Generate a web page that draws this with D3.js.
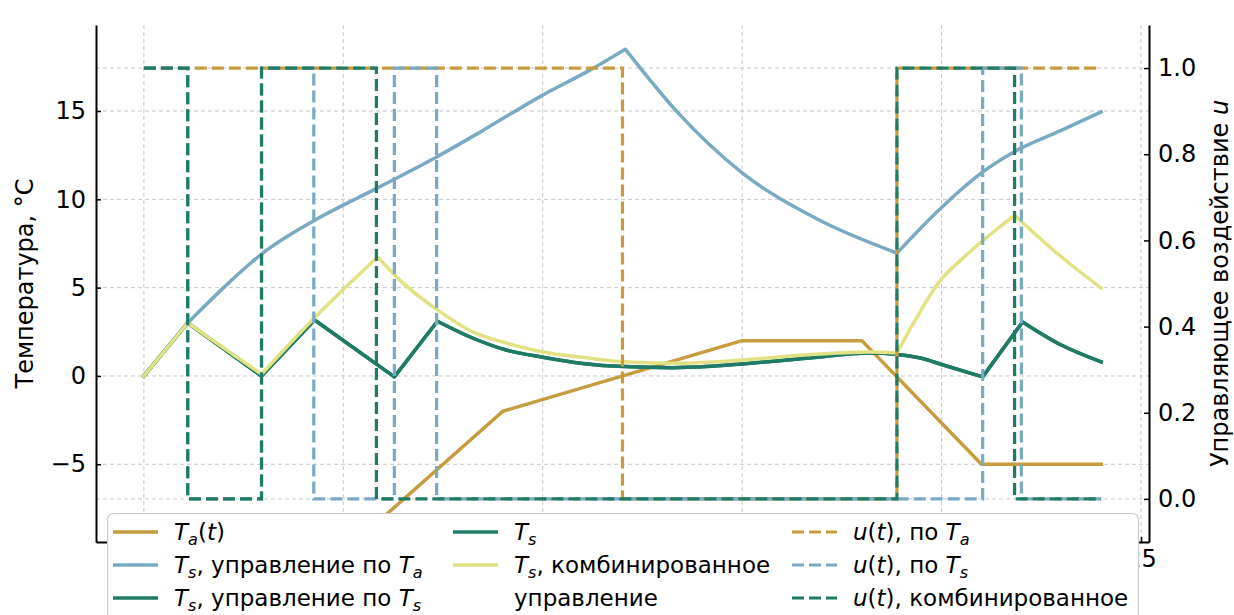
<!DOCTYPE html>
<html>
<head>
<meta charset="utf-8">
<script src="https://cdn.jsdelivr.net/npm/d3@7"></script>
<style>
  body { margin: 0; background: #fff; }
  svg { font-family: "DejaVu Sans", sans-serif; }
</style>
</head>
<body>
<div id="chart"></div>
<script>
// time, hours
const xTicks = [0, 5, 10, 15, 20, 25];
const tempTicks = [-5, 0, 5, 10, 15];
const uTicks = [0.0, 0.2, 0.4, 0.6, 0.8, 1.0];
const uGrid = [0, 1];

// ambient temperature T_a(t)
const ambient = [[0, -10], [5, -10], [9, -2], [15, 2], [18, 2], [21, -5], [24, -5]];

// T_s, control by T_a
const tsByTa = [[0, 0], [1.1, 3.0], [2, 5.0], [2.95, 6.9], [4.23, 8.75], [5.86, 10.65], [7.34, 12.4],
  [8.5, 13.9], [10, 15.9], [11.17, 17.3], [12.07, 18.5], [13.37, 14.95], [15, 11.5], [16.93, 8.83],
  [18.88, 6.96], [19.98, 9.5], [21, 11.5], [21.86, 12.74], [23, 13.9], [24, 14.95]];
const tsByTaKinks = [0, 1.1, 12.07, 18.88, 24];

// T_s, control by T_s
const tsByTs = [[0, 0], [1.1, 3.0], [2.95, 0.0], [4.28, 3.17], [6.28, -0.05], [7.36, 3.1], [8.24, 2.15],
  [9.08, 1.47], [10, 1.06], [11, 0.71], [12.04, 0.53], [13.25, 0.47], [14.1, 0.53], [15, 0.68],
  [16.6, 1.0], [18.2, 1.3], [18.88, 1.22], [19.5, 1.0], [20, 0.65], [21.03, -0.05], [22.03, 3.06],
  [23, 1.75], [24, 0.8]];
const tsByTsKinks = [0, 1.1, 2.95, 4.28, 6.28, 7.36, 21.03, 22.03, 24];

// T_s, combined control
const tsComb = [[0, 0], [1.1, 3.0], [2.95, 0.1], [4.28, 3.3], [5.86, 6.74], [6.41, 5.44], [7.36, 3.74],
  [8.24, 2.5], [9.08, 1.87], [10, 1.36], [11, 1.06], [12, 0.8], [13.25, 0.72], [15, 0.9], [16.6, 1.2],
  [18.2, 1.36], [18.88, 1.3], [19.3, 3.0], [19.98, 5.44], [20.5, 6.6], [21, 7.6], [21.83, 9.1],
  [23, 6.75], [24, 4.98]];
const tsCombKinks = [0, 1.1, 2.95, 5.86, 18.88, 21.83, 24];

// control signals u(t), step after
const uByTa = [[0, 1], [12.0, 0], [18.88, 1], [24, 1]];
const uByTs = [[0, 1], [1.1, 0], [2.95, 1], [4.26, 0], [6.28, 1], [7.34, 0], [21.03, 1], [22.0, 0], [24, 0]];
const uComb = [[0, 1], [1.1, 0], [2.95, 1], [5.83, 0], [18.88, 1], [21.83, 0], [24, 0]];

const colors = {
  ta: "#c69c3e",
  blue: "#7aaac3",
  teal: "#1f7b66",
  yellow: "#e2e183"
};

const W = 1234, H = 615;
const margin = { top: 25, right: 85, bottom: 73, left: 96 };
const width = W - margin.left - margin.right;
const height = H - margin.top - margin.bottom;

const svg = d3.select("#chart").append("svg")
  .attr("width", W).attr("height", H);

svg.append("defs").append("clipPath").attr("id", "clip")
  .append("rect").attr("width", width).attr("height", height);

const g = svg.append("g").attr("transform", `translate(${margin.left},${margin.top})`);

const x = d3.scaleLinear().domain([-1.2, 25.2]).range([0, width]);
const yT = d3.scaleLinear().domain([-9.4, 19.87]).range([height, 0]);
const yU = d3.scaleLinear().domain([-0.1, 1.1]).range([height, 0]);

// grid
const grid = g.append("g").attr("stroke", "#c8c8c8").attr("stroke-width", 1).attr("stroke-dasharray", "4,3");
grid.selectAll("line.vx").data(xTicks).enter().append("line")
  .attr("x1", d => x(d)).attr("x2", d => x(d)).attr("y1", 0).attr("y2", height);
grid.selectAll("line.hy").data(tempTicks).enter().append("line")
  .attr("x1", 0).attr("x2", width).attr("y1", d => yT(d)).attr("y2", d => yT(d));
grid.selectAll("line.hu").data(uGrid).enter().append("line")
  .attr("x1", 0).attr("x2", width).attr("y1", d => yU(d)).attr("y2", d => yU(d));

const plot = g.append("g").attr("clip-path", "url(#clip)");

const lineT = d3.line().x(d => x(d[0])).y(d => yT(d[1]));
const smoothT = d3.line().x(d => x(d[0])).y(d => yT(d[1])).curve(d3.curveMonotoneX);
const lineU = d3.line().x(d => x(d[0])).y(d => yU(d[1])).curve(d3.curveStepAfter);

// solid line, optionally smoothed between kink times
function solid(data, color, kinks) {
  let d;
  if (kinks) {
    d = "";
    for (let i = 0; i < kinks.length - 1; i++) {
      const seg = data.filter(p => p[0] >= kinks[i] && p[0] <= kinks[i + 1]);
      const s = smoothT(seg);
      d += i === 0 ? s : "L" + s.slice(1);
    }
  } else {
    d = lineT(data);
  }
  plot.append("path").attr("d", d)
    .attr("fill", "none").attr("stroke", color).attr("stroke-width", 3.5)
    .attr("stroke-linejoin", "round").attr("stroke-linecap", "square");
}
function dashed(data, color) {
  plot.append("path").datum(data).attr("d", lineU)
    .attr("fill", "none").attr("stroke", color).attr("stroke-width", 3.2)
    .attr("stroke-dasharray", "12,5");
}

solid(ambient, colors.ta);
solid(tsByTa, colors.blue, tsByTaKinks);
solid(tsByTs, colors.teal, tsByTsKinks);
solid(tsByTs, colors.teal, tsByTsKinks);
solid(tsComb, colors.yellow, tsCombKinks);
dashed(uByTa, colors.ta);
dashed(uByTs, colors.blue);
dashed(uComb, colors.teal);

// axes
const fs = 24;
const axL = g.append("g").call(d3.axisLeft(yT).tickValues(tempTicks).tickSizeInner(-5).tickSizeOuter(0).tickPadding(10)
  .tickFormat(d => d < 0 ? "\u2212" + Math.abs(d) : d));
const axR = g.append("g").attr("transform", `translate(${width},0)`)
  .call(d3.axisRight(yU).tickValues(uTicks).tickSizeInner(-5).tickSizeOuter(0).tickPadding(9).tickFormat(d3.format(".1f")));
const axB = g.append("g").attr("transform", `translate(0,${height})`)
  .call(d3.axisBottom(x).tickValues(xTicks).tickSizeInner(-5).tickSizeOuter(0).tickPadding(8));
[axL, axR, axB].forEach(a => {
  a.selectAll("text").attr("font-size", fs).attr("fill", "#000").attr("font-family", "DejaVu Sans");
  a.selectAll("line").attr("stroke", "#000").attr("stroke-width", 1.5);
  a.select(".domain").attr("stroke", "#000").attr("stroke-width", 2);
});

g.append("text").attr("transform", `translate(-71,${height / 2}) rotate(-90)`)
  .attr("text-anchor", "middle").attr("dominant-baseline", "central")
  .attr("font-size", fs).text("Температура, °C");

const rl = g.append("text").attr("transform", `translate(${width + 71},${height / 2}) rotate(-90)`)
  .attr("text-anchor", "middle").attr("dominant-baseline", "central").attr("font-size", fs);
rl.append("tspan").text("Управляющее воздействие ");
rl.append("tspan").attr("font-style", "italic").text("u");

// legend
const lfs = 23;
const legend = svg.append("g");
legend.append("rect").attr("x", 107.5).attr("y", 513.5).attr("width", 1031).attr("height", 140)
  .attr("rx", 6).attr("fill", "#fff").attr("stroke", "#cccccc").attr("stroke-width", 1.2);

// label pieces: [text, style] with style "i" italic, "s" italic subscript
const legendItems = [
  { col: 0, row: 0, color: colors.ta, dash: false, parts: [["T", "i"], ["a", "s"], ["(", ""], ["t", "i"], [")", ""]] },
  { col: 0, row: 1, color: colors.blue, dash: false, parts: [["T", "i"], ["s", "s"], [", управление по ", ""], ["T", "i"], ["a", "s"]] },
  { col: 0, row: 2, color: colors.teal, dash: false, parts: [["T", "i"], ["s", "s"], [", управление по ", ""], ["T", "i"], ["s", "s"]] },
  { col: 1, row: 0, color: colors.teal, dash: false, parts: [["T", "i"], ["s", "s"]] },
  { col: 1, row: 1, color: colors.yellow, dash: false, parts: [["T", "i"], ["s", "s"], [", комбинированное", ""]] },
  { col: 1, row: 2, color: null, dash: false, parts: [["управление", ""]] },
  { col: 2, row: 0, color: colors.ta, dash: true, parts: [["u", "i"], ["(", ""], ["t", "i"], ["), по ", ""], ["T", "i"], ["a", "s"]] },
  { col: 2, row: 1, color: colors.blue, dash: true, parts: [["u", "i"], ["(", ""], ["t", "i"], ["), по ", ""], ["T", "i"], ["s", "s"]] },
  { col: 2, row: 2, color: colors.teal, dash: true, parts: [["u", "i"], ["(", ""], ["t", "i"], ["), комбинированное", ""]] }
];
const colX = [113, 453, 792];
const rowY = [532, 565, 598];

legendItems.forEach(it => {
  const x0 = colX[it.col], yy = rowY[it.row];
  if (it.color) {
    legend.append("line").attr("x1", x0).attr("x2", x0 + 45).attr("y1", yy).attr("y2", yy)
      .attr("stroke", it.color).attr("stroke-width", it.dash ? 3.2 : 3.5)
      .attr("stroke-dasharray", it.dash ? "12,5" : null);
  }
  const t = legend.append("text").attr("x", x0 + 61).attr("y", yy + 8).attr("font-size", lfs);
  let shift = 0;
  it.parts.forEach(p => {
    const sp = t.append("tspan").text(p[0]);
    if (p[1] === "i" || p[1] === "s") sp.attr("font-style", "italic");
    if (p[1] === "s") {
      sp.attr("font-size", lfs * 0.7).attr("dy", 5 - shift);
      shift = 5;
    } else if (shift) {
      sp.attr("dy", -shift);
      shift = 0;
    }
  });
});
</script>
</body>
</html>
